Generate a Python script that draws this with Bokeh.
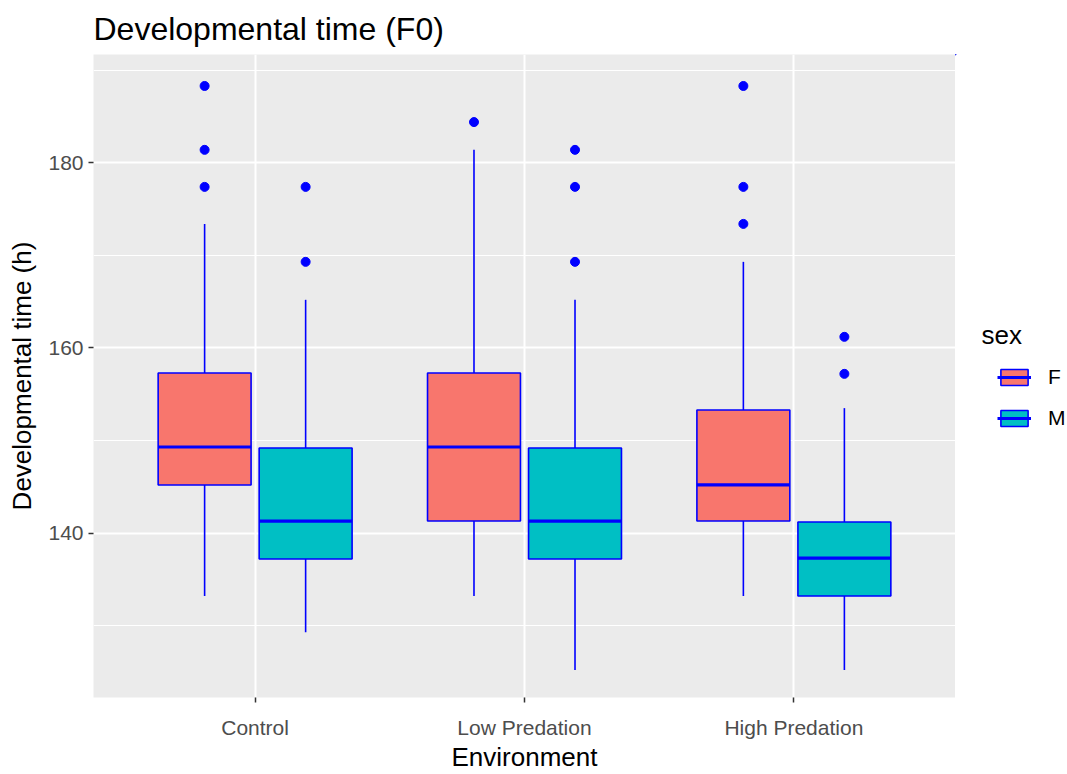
from bokeh.plotting import figure
from bokeh.models import (Range1d, FixedTicker, Legend, LegendItem, ColumnDataSource, Label,
                          BoxAnnotation)
from bokeh.layouts import row
from bokeh.transform import dodge
from bokeh.embed import file_html
from bokeh.resources import INLINE

# ---- data ----
envs = ["Control", "Low Predation", "High Predation"]
sexes = ["F", "M"]

f_low = [133.2, 133.2, 133.2]
f_q1 = [145.2, 141.3, 141.3]
f_med = [149.3, 149.3, 145.2]
f_q3 = [157.3, 157.3, 153.3]
f_high = [173.4, 181.4, 169.3]
f_out = [[177.4, 181.4, 188.3], [184.4], [173.4, 177.4, 188.3]]

m_low = [129.3, 125.2, 125.2]
m_q1 = [137.2, 137.2, 133.2]
m_med = [141.3, 141.3, 137.3]
m_q3 = [149.2, 149.2, 141.2]
m_high = [165.2, 165.2, 153.5]
m_out = [[169.3, 177.4], [169.3, 177.4, 181.4], [157.2, 161.2]]

y_ticks = [140, 160, 180]
y_minor = [130, 150, 170, 190]

colors = {"F": "#F8766D", "M": "#00BFC4"}
FONT = "Liberation Sans"

pos = list(range(1, len(envs) + 1))

p = figure(width=955, height=774, output_backend="svg", toolbar_location=None,
           x_range=Range1d(0.4, 3.6), y_range=Range1d(122.24, 191.7),
           min_border_left=93, min_border_right=0, min_border_top=52, min_border_bottom=71,
           background_fill_color="#EBEBEB", border_fill_color="white",
           title="Developmental time (F0)")
p.outline_line_color = None

# title
p.title.text_font = FONT
p.title.text_font_size = "32px"
p.title.text_font_style = "normal"
p.title.text_color = "black"
p.title.standoff = 16

# grids
p.xgrid.ticker = FixedTicker(ticks=pos)
p.xgrid.grid_line_color = "white"
p.xgrid.grid_line_width = 2
p.ygrid.ticker = FixedTicker(ticks=y_ticks, minor_ticks=y_minor)
p.ygrid.grid_line_color = "white"
p.ygrid.grid_line_width = 2
p.ygrid.minor_grid_line_color = "white"
p.ygrid.minor_grid_line_width = 1.1

# axes
p.xaxis.ticker = FixedTicker(ticks=pos)
p.xaxis.major_label_overrides = {i + 1: e for i, e in enumerate(envs)}
p.yaxis.ticker = FixedTicker(ticks=y_ticks, minor_ticks=[])
p.xaxis.axis_label = "Environment"
p.yaxis.axis_label = "Developmental time (h)"
for ax in (p.xaxis, p.yaxis):
    ax.axis_line_color = None
    ax.major_tick_line_color = "#333333"
    ax.major_tick_line_width = 1.5
    ax.major_tick_out = 5
    ax.major_tick_in = 0
    ax.minor_tick_line_color = None
    ax.major_label_text_font = FONT
    ax.major_label_text_font_size = "21px"
    ax.major_label_text_color = "#4D4D4D"
    ax.axis_label_text_font = FONT
    ax.axis_label_text_font_size = "26px"
    ax.axis_label_text_font_style = "normal"
    ax.axis_label_text_color = "black"
p.xaxis.major_label_standoff = 13
p.xaxis.axis_label_standoff = 0
p.yaxis.major_label_standoff = 5
p.yaxis.axis_label_standoff = 8

BOX_W = 0.345
OFF = 0.1875

groups = {
    "F": (f_low, f_q1, f_med, f_q3, f_high, f_out, -OFF),
    "M": (m_low, m_q1, m_med, m_q3, m_high, m_out, OFF),
}

# legend panel (separate narrow figure to the right; its ranges hold none of the data)
lg = figure(width=112, height=774, output_backend="svg", toolbar_location=None,
            x_range=Range1d(100, 101), y_range=Range1d(0, 1),
            min_border=0, outline_line_color=None, border_fill_color="white",
            background_fill_color="white")
lg.axis.visible = False
lg.grid.visible = False

legend_items = []
for s in sexes:
    low, q1, med, q3, high, outs, off = groups[s]
    src = ColumnDataSource(dict(x=pos, low=low, q1=q1, med=med, q3=q3, high=high))
    xc = dodge("x", off)
    p.segment(x0=xc, x1=xc, y0="low", y1="q1", source=src, line_color="blue", line_width=1.6)
    p.segment(x0=xc, x1=xc, y0="q3", y1="high", source=src, line_color="blue", line_width=1.6)
    p.vbar(x=xc, width=BOX_W, bottom="q1", top="q3", source=src,
           fill_color=colors[s], line_color="blue", line_width=1.6)
    p.segment(x0=dodge("x", off - BOX_W / 2), x1=dodge("x", off + BOX_W / 2),
              y0="med", y1="med", source=src, line_color="blue", line_width=3.2)
    ox = [pos[i] for i, o in enumerate(outs) for _ in o]
    oy = [v for o in outs for v in o]
    osrc = ColumnDataSource(dict(x=ox, y=oy))
    p.scatter(x=dodge("x", off), y="y", source=osrc, size=9, color="blue")

    kbox = lg.vbar(x="x", width=BOX_W, bottom="q1", top="q3", source=src,
                   fill_color=colors[s], line_color="blue", line_width=1.6)
    kmed = lg.segment(x0="x", x1="x", y0="med", y1="med", source=src,
                      line_color="blue", line_width=3.2)
    legend_items.append(LegendItem(label=s, renderers=[kbox, kmed], index=0))

# white cover over the legend panel's frame, below the legend itself
lg.add_layout(BoxAnnotation(fill_color="white", fill_alpha=1.0, line_color=None))

legend = Legend(items=legend_items, location=(42, 267),
                padding=0, margin=0, spacing=17, glyph_width=34, glyph_height=20,
                label_standoff=17,
                background_fill_alpha=0, border_line_color=None,
                label_text_font=FONT, label_text_font_size="21px", label_text_color="black")
lg.add_layout(legend)
lg.add_layout(Label(x=26, y=363, x_units="screen", y_units="screen", text="sex",
                    text_font=FONT, text_font_size="26px", text_color="black",
                    text_baseline="alphabetic"))

open("out.html", "w").write(file_html(row(p, lg), INLINE))
